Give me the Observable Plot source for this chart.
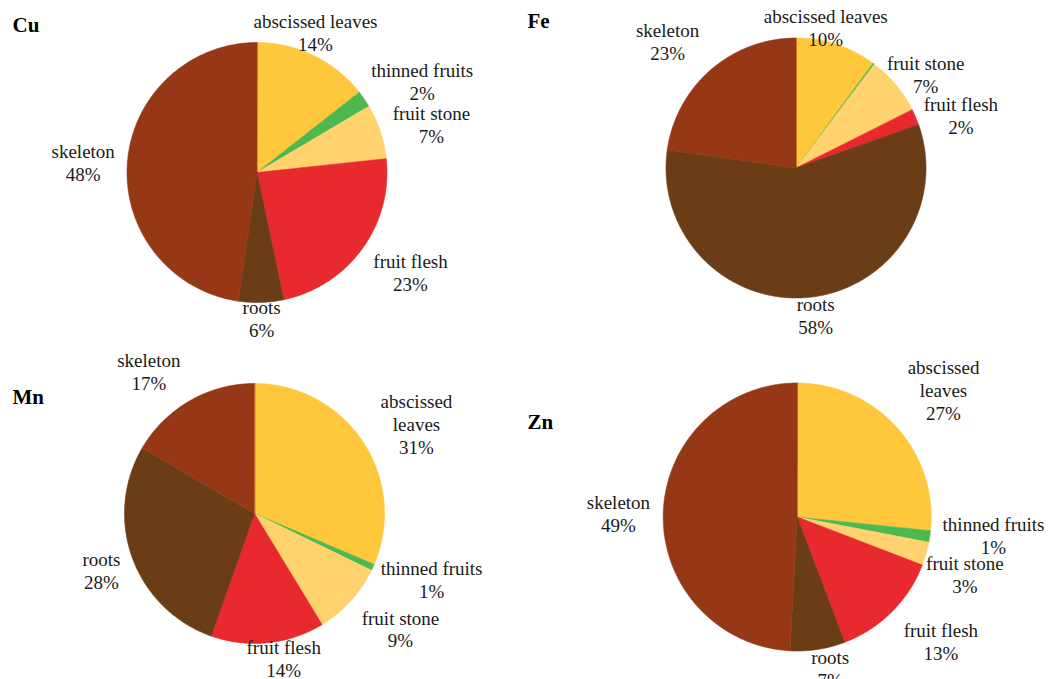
<!DOCTYPE html>
<html>
<head>
<meta charset="utf-8">
<script src="https://cdn.jsdelivr.net/npm/d3@7"></script>
<script src="https://cdn.jsdelivr.net/npm/@observablehq/plot@0.6"></script>
<style>
  html, body { margin: 0; padding: 0; background: #fff; }
  #grid { display: grid; grid-template-columns: 527px 530px; grid-template-rows: 340px 339px; width: 1057px; height: 679px; overflow: hidden; }
  #grid > div { position: relative; overflow: hidden; }
</style>
</head>
<body>
<div id="grid"><div id="Cu"></div><div id="Fe"></div><div id="Mn"></div><div id="Zn"></div></div>
<script>
// ---- data ----
const components = ["abscissed leaves", "thinned fruits", "fruit stone", "fruit flesh", "roots", "skeleton"];
const elements = ["Cu", "Fe", "Mn", "Zn"];
const cuShares = [14.4, 2.1, 6.8, 23.4, 5.6, 47.7];
const feShares = [10.1, 0.2, 7.3, 2.0, 57.6, 22.8];
const mnShares = [31.4, 0.8, 9.1, 14.1, 28.0, 16.6];
const znShares = [26.6, 1.4, 2.8, 13.4, 6.6, 49.1];
const shares = {Cu: cuShares, Fe: feShares, Mn: mnShares, Zn: znShares};

// ---- styles ----
const palette = ["#FFC83C", "#4CB84F", "#FFD26E", "#E8292D", "#6B3D17", "#963815"];
const serif = "'Liberation Serif', 'Times New Roman', serif";

// ---- layout (pixels within each panel; label positions in pie-radius units) ----
const layout = {
  Cu: {size: [527, 340], center: [256.5, 172], r: 130, title: [12, 24.5], wrap: [],
       labels: {"abscissed leaves": [0.45, 1.081], "thinned fruits": [1.271, 0.704], "fruit stone": [1.342, 0.373],
                "fruit flesh": [1.181, -0.769], "roots": [0.035, -1.123], "skeleton": [-1.337, 0.077]}},
  Fe: {size: [530, 340], center: [268.5, 167.5], r: 130, title: [0, 20.5], wrap: [],
       labels: {"abscissed leaves": [0.229, 1.081], "fruit stone": [0.998, 0.719], "fruit flesh": [1.268, 0.404],
                "roots": [0.152, -1.131], "skeleton": [-0.988, 0.977]}},
  Mn: {size: [527, 339], center: [254, 173], r: 130, title: [12, 57], wrap: ["abscissed leaves"],
       labels: {"abscissed leaves": [1.246, 0.692], "thinned fruits": [1.362, -0.504], "fruit stone": [1.123, -0.887],
                "fruit flesh": [0.225, -1.112], "roots": [-1.177, -0.435], "skeleton": [-0.813, 1.096]}},
  Zn: {size: [530, 339], center: [269.7, 176.5], r: 134, title: [0, 81.7], wrap: ["abscissed leaves"],
       labels: {"abscissed leaves": [1.092, 0.951], "thinned fruits": [1.465, -0.134], "fruit stone": [1.251, -0.424],
                "fruit flesh": [1.072, -0.925], "roots": [0.246, -1.127], "skeleton": [-1.334, 0.026]}}
};

function pieChart(el) {
  const vals = shares[el];
  const L = layout[el];
  const total = d3.sum(vals);
  const arcs = d3.pie().sort(null).value(d => d)(vals);
  const pts = [];
  arcs.forEach((a, i) => {
    const name = components[i];
    pts.push({name, x: 0, y: 0});
    const n = Math.max(2, Math.ceil((a.endAngle - a.startAngle) / (Math.PI / 360)));
    for (let k = 0; k <= n; k++) {
      const t = a.startAngle + (a.endAngle - a.startAngle) * k / n;
      pts.push({name, x: Math.sin(t), y: Math.cos(t)});
    }
  });
  const labels = components.map((name, i) => ({name, pct: Math.round(vals[i] / total * 100), pos: L.labels[name]}))
    .filter(d => d.pos);
  const [cx, cy] = L.center, r = L.r;
  return Plot.plot({
    width: L.size[0], height: L.size[1], margin: 0,
    style: {fontFamily: serif, background: "white", overflow: "visible"},
    x: {domain: [-1, 1], range: [cx - r, cx + r], axis: null},
    y: {domain: [-1, 1], range: [cy + r, cy - r], axis: null},
    color: {domain: components, range: palette},
    marks: [
      Plot.line(pts, {x: "x", y: "y", z: "name", fill: "name", stroke: "name", strokeWidth: 0.6, curve: "linear-closed"}),
      Plot.text(labels, {
        x: d => d.pos[0], y: d => d.pos[1],
        text: d => (L.wrap.includes(d.name) ? d.name.replace(" ", "\n") : d.name) + "\n" + d.pct + "%",
        fontSize: 19, lineHeight: 1.2, lineAnchor: "middle", fill: "#1a1a1a", fontFamily: serif
      }),
      Plot.text([el], {
        text: d => d, frameAnchor: "top-left", dx: L.title[0], dy: L.title[1], textAnchor: "start", lineAnchor: "middle",
        fontSize: 21, fontWeight: "bold", fill: "#000", fontFamily: serif
      })
    ]
  });
}

elements.forEach(el => document.getElementById(el).appendChild(pieChart(el)));
</script>
</body>
</html>
